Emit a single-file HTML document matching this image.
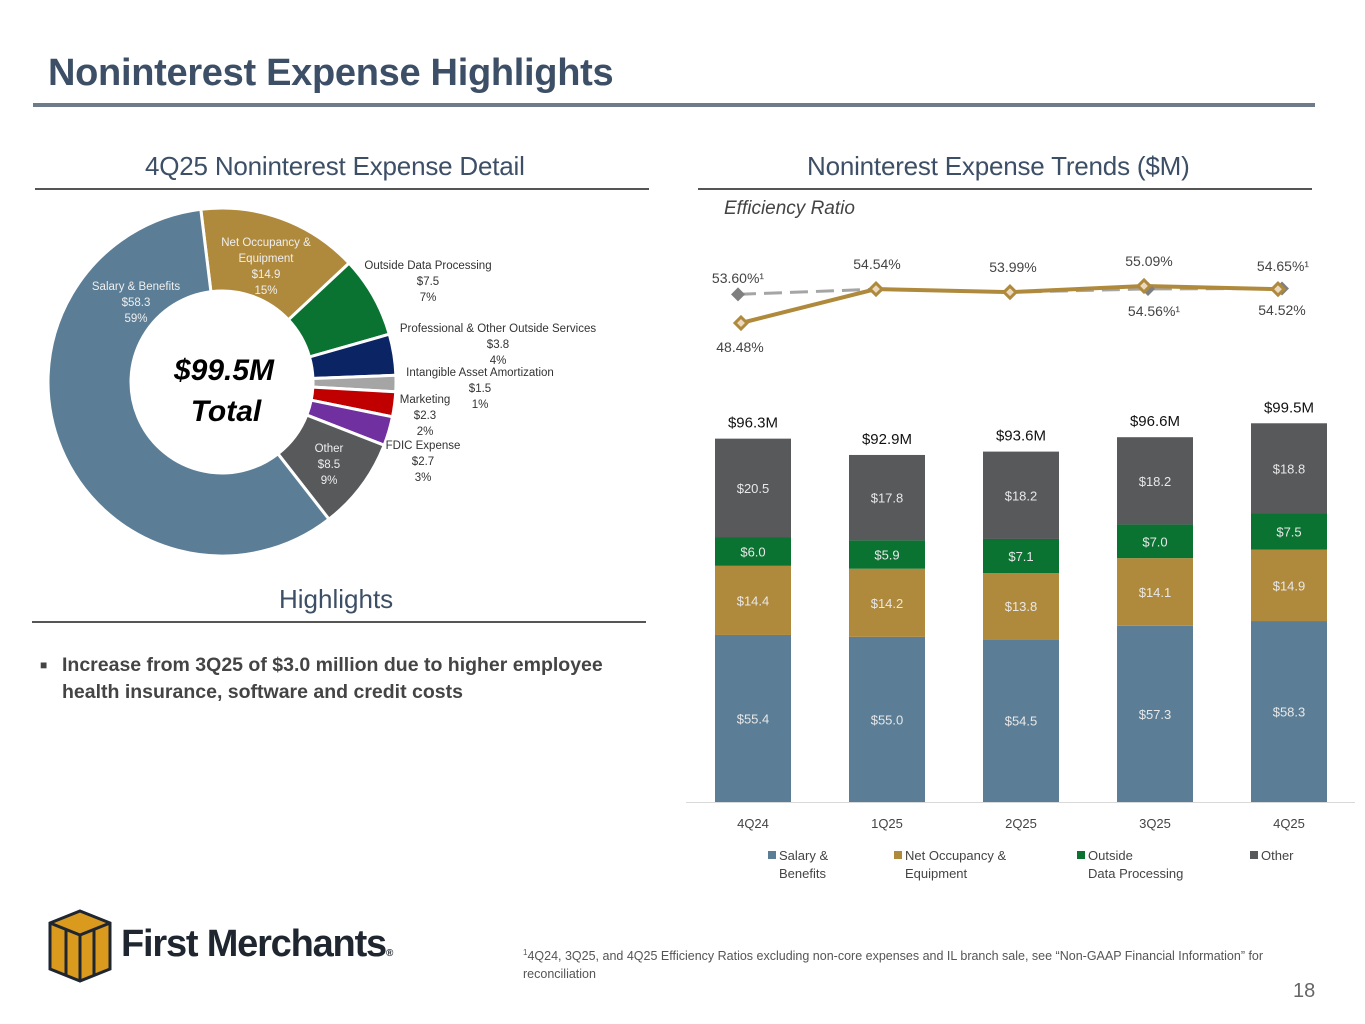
<!DOCTYPE html>
<html><head><meta charset="utf-8"><style>
body{margin:0;background:#fff;font-family:"Liberation Sans",sans-serif;}
#root{position:relative;width:1365px;height:1024px;overflow:hidden;}
.t{position:absolute;white-space:nowrap;}
</style></head><body>
<div id="root">
<div class="t" style="left:48px;top:52px;font-size:38px;font-weight:bold;color:#3d4f66;letter-spacing:-0.3px;">Noninterest Expense Highlights</div>
<div style="position:absolute;left:33px;top:103px;width:1282px;height:4px;background:#6e7b8a;"></div>

<div class="t" style="left:145px;top:151px;font-size:26px;color:#3d4f66;letter-spacing:-0.2px;">4Q25 Noninterest Expense Detail</div>
<div style="position:absolute;left:35px;top:188px;width:614px;height:2px;background:#555;"></div>
<div class="t" style="left:807px;top:151px;font-size:26px;color:#3d4f66;letter-spacing:-0.2px;">Noninterest Expense Trends ($M)</div>
<div style="position:absolute;left:698px;top:188px;width:614px;height:2px;background:#555;"></div>
<div class="t" style="left:724px;top:198px;font-size:19px;font-style:italic;color:#444;">Efficiency Ratio</div>

<div class="t" style="left:279px;top:584px;font-size:26px;color:#3d4f66;">Highlights</div>
<div style="position:absolute;left:32px;top:621px;width:614px;height:2px;background:#555;"></div>
<div class="t" style="left:40px;top:652px;font-size:19.5px;font-weight:bold;color:#444;line-height:27px;white-space:normal;width:600px;"><span style="position:absolute;left:0;top:0;font-size:12px;">■</span><div style="margin-left:22px;">Increase from 3Q25 of $3.0 million due to higher employee health insurance, software and credit costs</div></div>

<svg id="donut" style="position:absolute;left:0;top:0" width="660" height="580"></svg>
<svg id="bars" style="position:absolute;left:0;top:0" width="1365" height="900"></svg>

<svg style="position:absolute;left:48px;top:909px" width="64" height="74">
<polygon points="32,2 62,14 62,60 32,72 2,60 2,14" fill="#d99a1e" stroke="#1f2630" stroke-width="3"/>
<polyline points="2,14 32,26 62,14" fill="none" stroke="#1f2630" stroke-width="3"/>
<line x1="32" y1="26" x2="32" y2="72" stroke="#1f2630" stroke-width="3"/>
<line x1="18" y1="20" x2="18" y2="66" stroke="#1f2630" stroke-width="3"/>
<line x1="46" y1="20" x2="46" y2="66" stroke="#1f2630" stroke-width="3"/>
</svg>
<div class="t" style="left:121px;top:923px;font-size:38px;font-weight:bold;color:#1f2630;letter-spacing:-1.2px;">First Merchants<span style="font-size:10px;">®</span></div>
<div class="t" style="left:523px;top:944px;font-size:12.5px;color:#555;line-height:18px;white-space:normal;width:790px;"><sup style="font-size:8px">1</sup>4Q24, 3Q25, and 4Q25 Efficiency Ratios excluding non-core expenses and IL branch sale, see “Non-GAAP Financial Information” for reconciliation</div>
<div class="t" style="left:1293px;top:980px;font-size:20px;color:#666;">18</div>
</div>
<script>
const NS='http://www.w3.org/2000/svg';
function mk(p,tag,attrs,txt){const e=document.createElementNS(NS,tag);for(const k in attrs)e.setAttribute(k,attrs[k]);if(txt!=null)e.textContent=txt;p.appendChild(e);return e;}
// Donut data
const sliceNames=["Net Occupancy & Equipment","Outside Data Processing","Professional & Other Outside Services","Intangible Asset Amortization","Marketing","FDIC Expense","Other","Salary & Benefits"];
const sliceValues=[14.9,7.5,3.8,1.5,2.3,2.7,8.5,58.3];
const slicePcts=["15%","7%","4%","1%","2%","3%","9%","59%"];
const sliceColors=["#b08a3c","#0b7332","#0b2463","#a5a5a5","#c00000","#7030a0","#58595b","#5b7e96"];
const donut=document.getElementById('donut');
const cx=222,cy=382,R=174,r=91,start=-7;
const tot=sliceValues.reduce((a,b)=>a+b,0);
function pt(a,rad){const t=(a-90)*Math.PI/180;return [cx+rad*Math.cos(t),cy+rad*Math.sin(t)];}
let a0=start;
sliceValues.forEach((v,i)=>{
 const a1=a0+v/tot*360;const lg=(a1-a0)>180?1:0;
 const p1=pt(a0,R),p2=pt(a1,R),p3=pt(a1,r),p4=pt(a0,r);
 const p=mk(donut,'path',{d:`M${p1} A${R},${R} 0 ${lg} 1 ${p2} L${p3} A${r},${r} 0 ${lg} 0 ${p4}Z`,fill:sliceColors[i],stroke:'#fff','stroke-width':3});
 
 
 a0=a1;
});
const labelPos=[[266,242,'#eee',["Net Occupancy &","Equipment"]],[428,265,'#333',["Outside Data Processing"]],[498,328,'#333',["Professional & Other Outside Services"]],[480,372,'#333',["Intangible Asset Amortization"]],[425,399,'#333',["Marketing"]],[423,445,'#333',["FDIC Expense"]],[329,448,'#eee',["Other"]],[136,286,'#eee',["Salary & Benefits"]]];
labelPos.forEach((L,i)=>{
 const lines=[...L[3],'$'+sliceValues[i].toFixed(1),slicePcts[i]];
 const t=mk(donut,'text',{x:L[0],y:L[1]+4,'text-anchor':'middle','font-size':11.5,fill:L[2],'font-family':'Liberation Sans, sans-serif'});
 
 
 lines.forEach((s,j)=>mk(t,'tspan',{x:L[0],dy:j?16:0},s));
});
const c1=mk(donut,'text',{x:224,y:380,'text-anchor':'middle','font-size':30,'font-weight':'bold','font-style':'italic',fill:'#000'},'$99.5M');

const c2=mk(donut,'text',{x:226,y:421,'text-anchor':'middle','font-size':30,'font-weight':'bold','font-style':'italic',fill:'#000'},'Total');


// Bar chart data
const quarters=["4Q24","1Q25","2Q25","3Q25","4Q25"];
const salary=[55.4,55.0,54.5,57.3,58.3];
const occupancy=[14.4,14.2,13.8,14.1,14.9];
const outside=[6.0,5.9,7.1,7.0,7.5];
const other=[20.5,17.8,18.2,18.2,18.8];
const totals=["$96.3M","$92.9M","$93.6M","$96.6M","$99.5M"];
const effGaap=[48.48,54.54,53.99,55.09,54.52];
const effAdj=[53.60,54.54,53.99,54.56,54.65];
const gaapLabels=["48.48%","54.54%","53.99%","55.09%","54.52%"];
const adjLabels=["53.60%¹","","","54.56%¹","54.65%¹"];
const svg=document.getElementById('bars');
const xC=i=>753+i*134;
const yB=v=>Math.min(802,802-(v-20.6)*4.8);
const yL=v=>323-(v-48.48)*5.6;
const bw=76;
const ax=mk(svg,'line',{x1:686,x2:1355,y1:802.5,y2:802.5,stroke:'#d9d9d9'});

const series=[[salary,'#5b7e96','salary'],[occupancy,'#b08a3c','occupancy'],[outside,'#0b7332','outside-data'],[other,'#58595b','other']];
quarters.forEach((q,i)=>{
 let base=0;
 series.forEach(([arr,col,nm])=>{
  const top=base+arr[i];
  const y0=yB(base),y1=yB(top);
  const b=mk(svg,'rect',{x:xC(i)-bw/2,y:y1,width:bw,height:y0-y1,fill:col});
  
  
  const t=mk(svg,'text',{x:xC(i),y:(y0+y1)/2+5,'text-anchor':'middle','font-size':13,fill:'#e8e8e8'},'$'+arr[i].toFixed(1));
  
  
  base=top;
 });
 const tt=mk(svg,'text',{x:xC(i),y:yB(base)-11,'text-anchor':'middle','font-size':15,fill:'#111'},totals[i]);
 
 const xl=mk(svg,'text',{x:xC(i),y:828,'text-anchor':'middle','font-size':13,fill:'#444'},q);
 
});
const la=mk(svg,'polyline',{points:effAdj.map((v,i)=>(i==0?738:xC(i)-7)+','+yL(v)).join(' '),fill:'none',stroke:'#a5a5a5','stroke-width':3,'stroke-dasharray':'18,8'});

const lgx=i=>i==0?741:xC(i)-11;
const lg=mk(svg,'polyline',{points:effGaap.map((v,i)=>lgx(i)+','+yL(v)).join(' '),fill:'none',stroke:'#b08a3c','stroke-width':4});

effAdj.forEach((v,i)=>{
 if(i==1||i==2)return;
 const x=i==0?738:xC(i)-7,y=yL(v);
 const m=mk(svg,'polygon',{points:`${x},${y-7} ${x+7},${y} ${x},${y+7} ${x-7},${y}`,fill:'#7f7f7f'});
 
});
effGaap.forEach((v,i)=>{
 const x=lgx(i),y=yL(v);
 const m=mk(svg,'polygon',{points:`${x},${y-6} ${x+6},${y} ${x},${y+6} ${x-6},${y}`,fill:'#ead9c0',stroke:'#b08a3c','stroke-width':3});
 
});
const gPos=[[740,352],[877,269],[1013,272],[1149,266],[1282,315]];
gaapLabels.forEach((s,i)=>{const t=mk(svg,'text',{x:gPos[i][0],y:gPos[i][1],'text-anchor':'middle','font-size':14,fill:'#444'},s);
 });
const aPos=[[738,283],[0,0],[0,0],[1154,316],[1283,271]];
adjLabels.forEach((s,i)=>{if(!s)return;const t=mk(svg,'text',{x:aPos[i][0],y:aPos[i][1],'text-anchor':'middle','font-size':14,fill:'#444'},s);
 });
const legItems=[[768,'#5b7e96',["Salary &","Benefits"]],[894,'#b08a3c',["Net Occupancy &","Equipment"]],[1077,'#0b7332',["Outside","Data Processing"]],[1250,'#58595b',["Other"]]];
legItems.forEach((L,i)=>{
 const g=mk(svg,'g',{});
 
 mk(g,'rect',{x:L[0],y:851,width:8,height:8,fill:L[1]});
 L[2].forEach((s,j)=>mk(g,'text',{x:L[0]+11,y:860+j*18,'font-size':13,fill:'#444'},s));
});
</script>
</body></html>
